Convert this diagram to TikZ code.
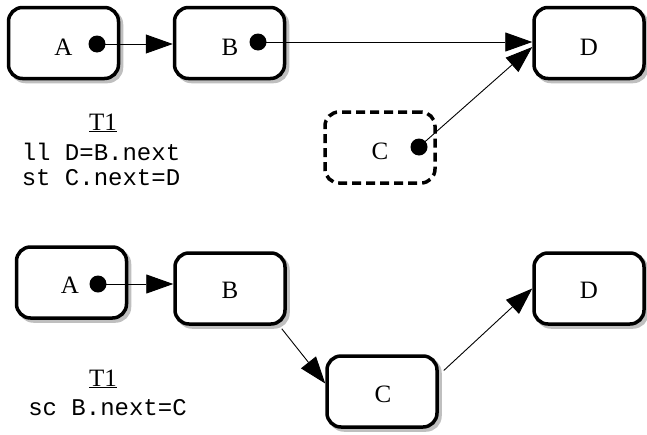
\documentclass[tikz,border=0pt]{standalone}
\usepackage{fontspec}
\setmainfont{Liberation Serif}
\setmonofont{Liberation Mono}
\usetikzlibrary{arrows.meta,shadows,calc}
\begin{document}
\begin{tikzpicture}[x=1pt,y=-1pt,
  box/.style={draw, line width=3.5pt, rounded corners=14pt, fill=white,
    minimum width=110pt, minimum height=71pt, inner sep=0pt,
    drop shadow={shadow xshift=3pt, shadow yshift=-3pt, fill=black!25, draw=black!25, line width=3.5pt, opacity=1}},
  dbox/.style={draw, line width=3.5pt, rounded corners=14pt, dash pattern=on 9pt off 5pt,
    minimum width=110pt, minimum height=71pt, inner sep=0pt},
  lab/.style={anchor=base, font=\fontsize{25}{30}\selectfont, inner sep=0pt},
  code/.style={anchor=base, font=\fontsize{24}{28}\ttfamily, inner sep=0pt},
  dotn/.style={circle, fill=black, minimum size=17pt, inner sep=0pt},
  link/.style={line width=0.9pt, -{Triangle[length=27pt,width=19pt]}},
]
\useasboundingbox (0,0) rectangle (647,434);

% ---------- top scenario ----------
\node[box] (A1) at (63.5,43) {};
\node[box] (B1) at (229.5,43) {};
\node[box] (D1) at (589,43) {};
\node[dbox] (C1) at (380,147.5) {};

\node[lab] (A1l) at (63.5,55) {A};
\node[lab] (B1l) at (230,55) {B};
\node[lab] (D1l) at (589,55) {D};
\node[lab] (C1l) at (380,159) {C};

\node[dotn] (A1d) at (97,44) {};
\node[dotn] (B1d) at (258,42) {};
\node[dotn] (C1d) at (419,147) {};

\draw[link] (A1d.center) -- (A1d.center -| B1.west);
\draw[link] (B1d.center) -- (B1d.center -| D1.west);
\draw[link] (C1d.center) -- ([yshift=-4pt]D1.west);

\node[lab] (T1a) at (103,130) {\underline{T1}};
\node[code] (L1a) at (101,160) {ll D=B.next};
\node[code] (L1b) at (101,185) {st C.next=D};

% ---------- bottom scenario ----------
\node[box] (A2) at (71.5,282.5) {};
\node[box] (B2) at (230,288.5) {};
\node[box] (C2) at (382,391.5) {};
\node[box] (D2) at (589,288.5) {};

\node[lab] (A2l) at (70,293) {A};
\node[lab] (B2l) at (230,298) {B};
\node[lab] (C2l) at (383,402) {C};
\node[lab] (D2l) at (589,298) {D};

\node[dotn] (A2d) at (98,284) {};

\draw[link] (A2d.center) -- (A2d.center -| B2.west);
\draw[link] ([xshift=-5pt,yshift=-3pt]B2.south east) -- ([yshift=8pt]C2.west);
\draw[link] ([xshift=5pt,yshift=21pt]C2.east) -- (D2.west);

\node[lab] (T1b) at (103,386) {\underline{T1}};
\node[code] (L2a) at (107.5,415) {sc B.next=C};
\end{tikzpicture}
\end{document}
